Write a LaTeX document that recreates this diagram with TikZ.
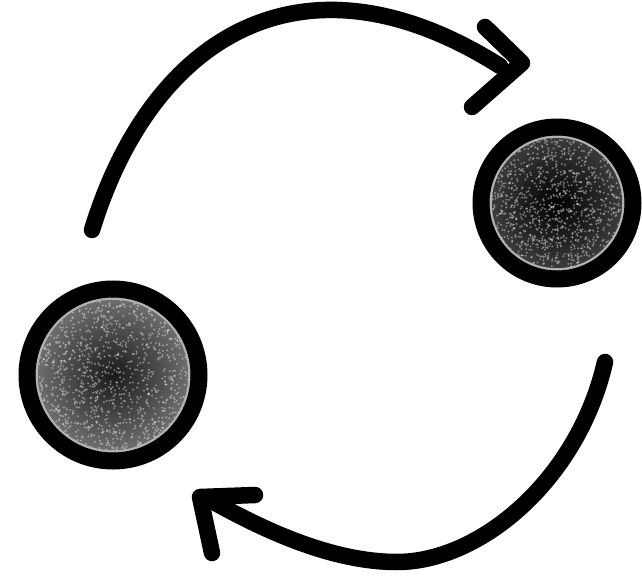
\documentclass[tikz,border=0pt]{standalone}
\usepackage{tikz}
\usetikzlibrary{calc}

\begin{document}
\begin{tikzpicture}[x=1pt, y=-1pt,
		stroke/.style={line width=16.5pt, line cap=round, line join=round},
		ring/.style={line width=17pt},
		speck/.style={white, opacity=0.4}]
		\useasboundingbox (0,0) rectangle (642,580);
		
		% 两个圆的圆心
		\coordinate (left) at (113,375);
		\coordinate (right) at (557,203);
		
		% 圆内的灰色颗粒
		\shade[inner color=black!90, outer color=black!55] (left) circle (80);
		\shade[inner color=black, outer color=black!75] (right) circle (70);
		\pgfmathsetseed{7}
		\foreach \c/\r in {left/80, right/70} {
			\foreach \i in {1,...,1100} {
				\pgfmathsetmacro\a{360*rnd}
				\pgfmathsetmacro\d{\r*sqrt(rnd)}
				\fill[speck] ($(\c)+(\a:\d)$) circle (1.1);
			}
		}
		\draw[white!70!black, line width=2.5pt] (left) circle (76.5);
		\draw[white!70!black, line width=2.5pt] (right) circle (66.5);
		\draw[ring] (left) circle (86);
		\draw[ring] (right) circle (76);
		
		% 上方箭头
		\coordinate (t0) at (92,230);
		\coordinate (t1) at (500,66);
		\draw[stroke] (t0) .. controls (150,40) and (300,-60) .. (t1);
		\draw[stroke] (485,27) -- (522,63) -- (472,107);
		
		% 下方箭头
		\coordinate (b0) at (605,362);
		\coordinate (b1) at (210,500);
		\draw[stroke] (b0) .. controls (578,480) and (480,562) .. (397,562)
			.. controls (330,562) and (260,528) .. (b1);
		\draw[stroke] (255,495) -- (200,497) -- (212,553);
	\end{tikzpicture}
\end{document}
